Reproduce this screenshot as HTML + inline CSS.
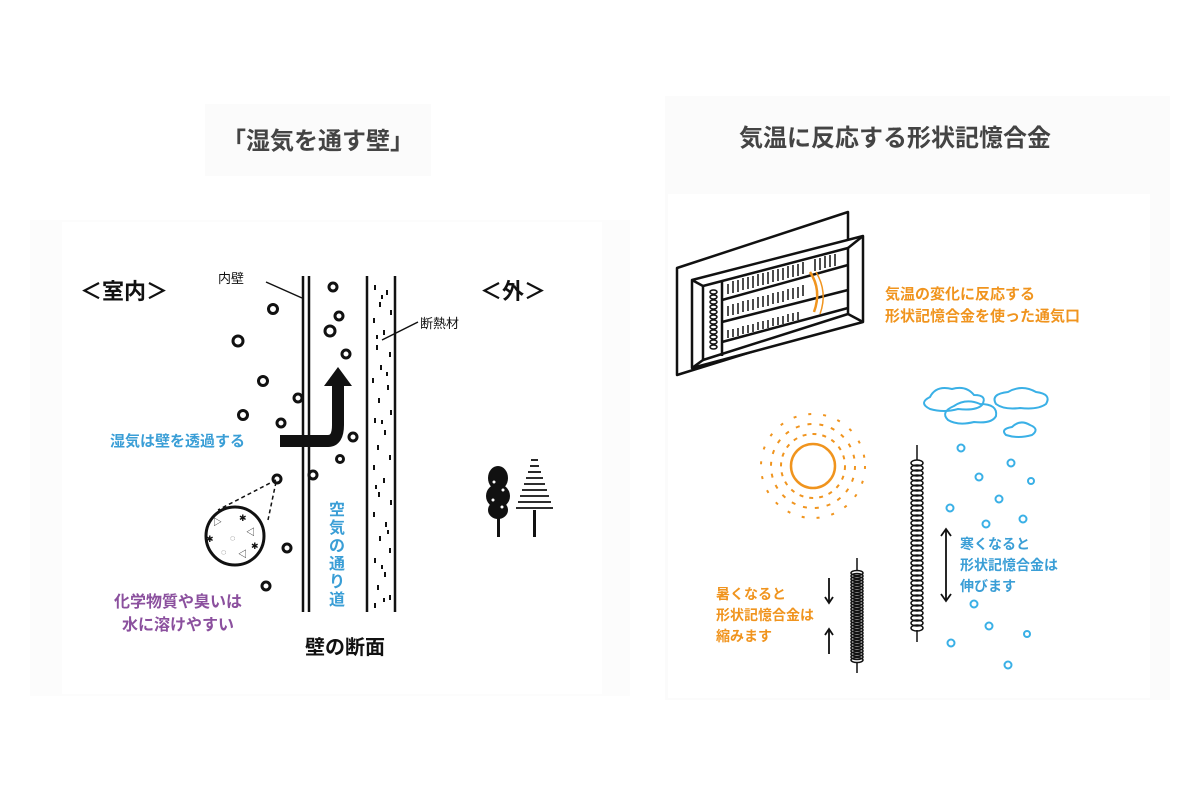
<!DOCTYPE html>
<html><head><meta charset="utf-8"><style>
body{margin:0;background:#fff;}
svg{display:block}
text{font-family:"Liberation Sans","Noto Sans CJK JP",sans-serif;}
</style></head><body>
<svg width="1200" height="800" viewBox="0 0 1200 800" xmlns="http://www.w3.org/2000/svg">
<rect width="1200" height="800" fill="#fff"/>
<rect x="205" y="104" width="226" height="72" fill="#fbfbfb"/>
<rect x="30" y="220" width="600" height="476" fill="#fcfcfc"/>
<rect x="62" y="222" width="540" height="472" fill="#fff"/>
<rect x="665" y="96" width="505" height="604" fill="#fbfbfb"/>
<rect x="668" y="194" width="482" height="504" fill="#fff"/>
<text x="318" y="149" font-size="24" font-weight="bold" fill="#444" text-anchor="middle">「湿気を通す壁」</text>
<text x="895" y="146" font-size="24" font-weight="bold" fill="#444" text-anchor="middle">気温に反応する形状記憶合金</text>

<!-- left diagram -->
<text x="80" y="299" font-size="22" font-weight="bold" fill="#111">＜室内＞</text>
<text x="480" y="299" font-size="22" font-weight="bold" fill="#111">＜外＞</text>
<text x="218" y="283" font-size="13" fill="#111">内壁</text>
<line x1="266" y1="282" x2="302" y2="298" stroke="#111" stroke-width="1.5"/>
<g stroke="#111" stroke-width="2.5">
<line x1="303" y1="276" x2="303" y2="612"/><line x1="309" y1="276" x2="309" y2="612"/>
<line x1="367" y1="276" x2="367" y2="612"/><line x1="395" y1="276" x2="395" y2="612"/>
</g>
<g fill="#111">
<rect x="374" y="285" width="2" height="5"/><rect x="386" y="290" width="2" height="5"/><rect x="379" y="302" width="2" height="5"/><rect x="390" y="310" width="2" height="5"/><rect x="373" y="318" width="2" height="5"/><rect x="383" y="330" width="2" height="5"/><rect x="376" y="345" width="2" height="5"/><rect x="389" y="352" width="2" height="5"/><rect x="380" y="365" width="2" height="5"/><rect x="372" y="378" width="2" height="5"/><rect x="387" y="385" width="2" height="5"/><rect x="378" y="398" width="2" height="5"/><rect x="390" y="410" width="2" height="5"/><rect x="374" y="418" width="2" height="5"/><rect x="384" y="430" width="2" height="5"/><rect x="377" y="445" width="2" height="5"/><rect x="389" y="455" width="2" height="5"/><rect x="373" y="465" width="2" height="5"/><rect x="383" y="478" width="2" height="5"/><rect x="378" y="492" width="2" height="5"/><rect x="390" y="500" width="2" height="5"/><rect x="373" y="512" width="2" height="5"/><rect x="385" y="522" width="2" height="5"/><rect x="379" y="536" width="2" height="5"/><rect x="389" y="548" width="2" height="5"/><rect x="374" y="558" width="2" height="5"/><rect x="384" y="572" width="2" height="5"/><rect x="377" y="585" width="2" height="5"/><rect x="389" y="595" width="2" height="5"/><rect x="374" y="603" width="2" height="5"/>
<rect x="381" y="295" width="2" height="4"/><rect x="376" y="335" width="2" height="4"/><rect x="386" y="372" width="2" height="4"/><rect x="381" y="420" width="2" height="4"/><rect x="375" y="485" width="2" height="4"/><rect x="387" y="530" width="2" height="4"/><rect x="381" y="565" width="2" height="4"/><rect x="383" y="598" width="2" height="4"/>
</g>
<text x="420" y="328" font-size="13" fill="#111">断熱材</text>
<line x1="418" y1="322" x2="382" y2="340" stroke="#111" stroke-width="1.5"/>
<g fill="none" stroke="#111" stroke-width="3">
<circle cx="273" cy="309" r="4.5"/><circle cx="238" cy="341" r="5"/><circle cx="263" cy="381" r="4.5"/><circle cx="243" cy="415" r="4.5"/><circle cx="281" cy="423" r="4"/><circle cx="298" cy="398" r="4"/><circle cx="277" cy="479" r="4"/><circle cx="287" cy="548" r="4"/><circle cx="266" cy="586" r="4"/>
<circle cx="333" cy="287" r="4"/><circle cx="339" cy="316" r="4"/><circle cx="330" cy="331" r="5"/><circle cx="346" cy="354" r="4"/><circle cx="353" cy="437" r="4"/><circle cx="340" cy="459" r="3.5"/><circle cx="313" cy="475" r="4"/>
</g>
<path d="M280 441 L328 441 Q338 441 338 425 L338 385" fill="none" stroke="#111" stroke-width="12"/>
<polygon points="338,367 324,386 352,386" fill="#111"/>
<text x="110" y="446" font-size="15" font-weight="bold" fill="#3a9ed6">湿気は壁を透過する</text>
<line x1="276" y1="480" x2="218" y2="510" stroke="#111" stroke-width="1.5" stroke-dasharray="4,3"/>
<line x1="276" y1="482" x2="268" y2="520" stroke="#111" stroke-width="1.5" stroke-dasharray="4,3"/>
<circle cx="235" cy="536" r="29" fill="#fff" stroke="#111" stroke-width="3"/>
<g font-size="9" fill="#111"><text x="213" y="525">▷</text><text x="239" y="521">✱</text><text x="246" y="535">◁</text><text x="206" y="542">✱</text><text x="251" y="549">✱</text><text x="230" y="541">◌</text><text x="221" y="555">◌</text><text x="238" y="557">◁</text></g>
<text x="178" y="607" font-size="16" font-weight="bold" fill="#8b509e" text-anchor="middle">化学物質や臭いは</text>
<text x="178" y="630" font-size="16" font-weight="bold" fill="#8b509e" text-anchor="middle">水に溶けやすい</text>
<g font-size="16" font-weight="bold" fill="#3a9ed6" text-anchor="middle"><text x="337" y="515">空</text><text x="337" y="533">気</text><text x="337" y="551">の</text><text x="337" y="569">通</text><text x="337" y="587">り</text><text x="337" y="605">道</text></g>
<text x="345" y="654" font-size="20" font-weight="bold" fill="#111" text-anchor="middle">壁の断面</text>
<!-- trees -->
<g fill="#111"><ellipse cx="498" cy="478" rx="10" ry="12"/><ellipse cx="498" cy="496" rx="12" ry="12"/><ellipse cx="498" cy="510" rx="10" ry="9"/><rect x="497" y="515" width="3" height="22"/><rect x="533" y="510" width="3" height="27"/></g>
<g fill="#fff"><circle cx="494" cy="482" r="1.5"/><circle cx="503" cy="490" r="1.5"/><circle cx="493" cy="500" r="1.5"/><circle cx="502" cy="507" r="1.5"/></g>
<g stroke="#111" stroke-width="1.8">
<line x1="531" y1="460" x2="538" y2="460"/><line x1="530" y1="466" x2="539" y2="466"/><line x1="528" y1="472" x2="541" y2="472"/><line x1="526" y1="478" x2="543" y2="478"/><line x1="524" y1="484" x2="545" y2="484"/><line x1="522" y1="490" x2="547" y2="490"/><line x1="520" y1="496" x2="549" y2="496"/><line x1="518" y1="502" x2="551" y2="502"/><line x1="516" y1="508" x2="553" y2="508"/>
</g>

<!-- vent -->
<g stroke="#111" stroke-width="2.5" fill="#fff" stroke-linejoin="round">
<polygon points="677,268 848,212 848,322 677,375"/>
<polygon points="692,280 863,236 863,322 692,368"/>
<polygon points="703,286 848,248 848,314 703,360" fill="#fff"/>
<line x1="692" y1="280" x2="703" y2="286"/><line x1="692" y1="368" x2="703" y2="360"/><line x1="863" y1="236" x2="848" y2="248"/><line x1="863" y1="322" x2="848" y2="314"/>
<line x1="722" y1="282" x2="722" y2="356"/>
<line x1="722" y1="300" x2="848" y2="265"/><line x1="722" y1="322" x2="848" y2="290"/><line x1="722" y1="342" x2="848" y2="308"/>
</g>
<g stroke="#111" stroke-width="1.5">
<path d="M728 294 v-10 M733 293 v-12 M738 292 v-12 M743 290 v-12 M748 289 v-12 M753 288 v-12 M758 286 v-12 M763 285 v-12 M768 284 v-12 M773 282 v-12 M778 281 v-12 M783 280 v-12 M788 278 v-12 M793 277 v-12 M798 276 v-12 M803 274 v-12 M815 271 v-12 M820 270 v-12 M825 268 v-12 M830 267 v-12 M835 266 v-12"/>
<path d="M728 316 v-10 M733 315 v-11 M738 314 v-11 M743 312 v-11 M748 311 v-11 M753 310 v-11 M758 308 v-11 M763 307 v-11 M768 306 v-11 M773 304 v-11 M778 303 v-11 M783 302 v-11 M788 300 v-11 M793 299 v-11 M798 298 v-11 M803 296 v-11"/>
<path d="M728 338 v-8 M733 337 v-8 M738 336 v-8 M743 334 v-8 M748 333 v-8 M753 332 v-8 M758 330 v-8 M763 329 v-8 M768 328 v-8 M773 326 v-8 M778 325 v-8 M783 324 v-8 M788 322 v-8 M793 321 v-8 M798 320 v-8"/>
<path d="M710 292 a3.5 2 0 1 1 7 0a3.5 2 0 1 1 -7 0m0 5a3.5 2 0 1 1 7 0a3.5 2 0 1 1 -7 0m0 5a3.5 2 0 1 1 7 0a3.5 2 0 1 1 -7 0m0 5a3.5 2 0 1 1 7 0a3.5 2 0 1 1 -7 0m0 5a3.5 2 0 1 1 7 0a3.5 2 0 1 1 -7 0m0 5a3.5 2 0 1 1 7 0a3.5 2 0 1 1 -7 0m0 5a3.5 2 0 1 1 7 0a3.5 2 0 1 1 -7 0m0 5a3.5 2 0 1 1 7 0a3.5 2 0 1 1 -7 0m0 5a3.5 2 0 1 1 7 0a3.5 2 0 1 1 -7 0m0 5a3.5 2 0 1 1 7 0a3.5 2 0 1 1 -7 0m0 5a3.5 2 0 1 1 7 0a3.5 2 0 1 1 -7 0m0 5a3.5 2 0 1 1 7 0a3.5 2 0 1 1 -7 0" fill="none"/>
</g>
<path d="M810 272 Q822 290 814 312" fill="none" stroke="#f0941e" stroke-width="2.5"/>
<path d="M816 272 Q828 292 820 314" fill="none" stroke="#f0941e" stroke-width="1.5"/>
<text x="885" y="299" font-size="15" font-weight="bold" fill="#f0941e">気温の変化に反応する</text>
<text x="885" y="321" font-size="15" font-weight="bold" fill="#f0941e">形状記憶合金を使った通気口</text>

<!-- sun -->
<circle cx="813" cy="466" r="22" fill="none" stroke="#f0941e" stroke-width="2.5"/>
<circle cx="813" cy="466" r="32" fill="none" stroke="#f0941e" stroke-width="2" stroke-dasharray="4,6"/>
<circle cx="813" cy="466" r="42" fill="none" stroke="#f0941e" stroke-width="2" stroke-dasharray="4,8"/>
<circle cx="813" cy="466" r="52" fill="none" stroke="#f0941e" stroke-width="2" stroke-dasharray="3,12"/>
<!-- clouds -->
<g fill="none" stroke="#3ab0e6" stroke-width="2">
<path d="M930 409 q-12 -6 0 -12 q6 -12 22 -8 q14 -4 22 6 q14 0 8 10 q-6 6 -24 4 q-14 4 -28 0z"/>
<path d="M948 420 q-8 -8 6 -14 q12 -8 26 -2 q18 0 16 12 q-4 8 -22 6 q-16 4 -26 -2z"/>
<path d="M996 404 q-6 -10 12 -12 q14 -8 28 0 q16 2 10 12 q-8 6 -26 4 q-16 2 -24 -4z"/>
<path d="M1006 435 q-6 -6 6 -8 q8 -8 18 -2 q10 4 2 10 q-14 4 -26 0z"/>
</g>
<!-- springs -->
<g stroke="#111" stroke-width="1.5" fill="none">
<path d="M917 445 v15 M917 630 v12 M857 558 v13 M857 663 v10"/>
<path d="M911 463 a6 3 0 1 1 12 0a6 3 0 1 1 -12 0m0 5a6 3 0 1 1 12 0a6 3 0 1 1 -12 0m0 5a6 3 0 1 1 12 0a6 3 0 1 1 -12 0m0 5a6 3 0 1 1 12 0a6 3 0 1 1 -12 0m0 5a6 3 0 1 1 12 0a6 3 0 1 1 -12 0m0 5a6 3 0 1 1 12 0a6 3 0 1 1 -12 0m0 5a6 3 0 1 1 12 0a6 3 0 1 1 -12 0m0 5a6 3 0 1 1 12 0a6 3 0 1 1 -12 0m0 5a6 3 0 1 1 12 0a6 3 0 1 1 -12 0m0 5a6 3 0 1 1 12 0a6 3 0 1 1 -12 0m0 5a6 3 0 1 1 12 0a6 3 0 1 1 -12 0m0 5a6 3 0 1 1 12 0a6 3 0 1 1 -12 0m0 5a6 3 0 1 1 12 0a6 3 0 1 1 -12 0m0 5a6 3 0 1 1 12 0a6 3 0 1 1 -12 0m0 5a6 3 0 1 1 12 0a6 3 0 1 1 -12 0m0 5a6 3 0 1 1 12 0a6 3 0 1 1 -12 0m0 5a6 3 0 1 1 12 0a6 3 0 1 1 -12 0m0 5a6 3 0 1 1 12 0a6 3 0 1 1 -12 0m0 5a6 3 0 1 1 12 0a6 3 0 1 1 -12 0m0 5a6 3 0 1 1 12 0a6 3 0 1 1 -12 0m0 5a6 3 0 1 1 12 0a6 3 0 1 1 -12 0m0 5a6 3 0 1 1 12 0a6 3 0 1 1 -12 0m0 5a6 3 0 1 1 12 0a6 3 0 1 1 -12 0m0 5a6 3 0 1 1 12 0a6 3 0 1 1 -12 0m0 5a6 3 0 1 1 12 0a6 3 0 1 1 -12 0m0 5a6 3 0 1 1 12 0a6 3 0 1 1 -12 0m0 5a6 3 0 1 1 12 0a6 3 0 1 1 -12 0m0 5a6 3 0 1 1 12 0a6 3 0 1 1 -12 0m0 5a6 3 0 1 1 12 0a6 3 0 1 1 -12 0m0 5a6 3 0 1 1 12 0a6 3 0 1 1 -12 0m0 5a6 3 0 1 1 12 0a6 3 0 1 1 -12 0m0 5a6 3 0 1 1 12 0a6 3 0 1 1 -12 0m0 5a6 3 0 1 1 12 0a6 3 0 1 1 -12 0m0 5a6 3 0 1 1 12 0a6 3 0 1 1 -12 0"/>
<path d="M851 573 a6 2.5 0 1 1 12 0a6 2.5 0 1 1 -12 0m0 3a6 2.5 0 1 1 12 0a6 2.5 0 1 1 -12 0m0 3a6 2.5 0 1 1 12 0a6 2.5 0 1 1 -12 0m0 3a6 2.5 0 1 1 12 0a6 2.5 0 1 1 -12 0m0 3a6 2.5 0 1 1 12 0a6 2.5 0 1 1 -12 0m0 3a6 2.5 0 1 1 12 0a6 2.5 0 1 1 -12 0m0 3a6 2.5 0 1 1 12 0a6 2.5 0 1 1 -12 0m0 3a6 2.5 0 1 1 12 0a6 2.5 0 1 1 -12 0m0 3a6 2.5 0 1 1 12 0a6 2.5 0 1 1 -12 0m0 3a6 2.5 0 1 1 12 0a6 2.5 0 1 1 -12 0m0 3a6 2.5 0 1 1 12 0a6 2.5 0 1 1 -12 0m0 3a6 2.5 0 1 1 12 0a6 2.5 0 1 1 -12 0m0 3a6 2.5 0 1 1 12 0a6 2.5 0 1 1 -12 0m0 3a6 2.5 0 1 1 12 0a6 2.5 0 1 1 -12 0m0 3a6 2.5 0 1 1 12 0a6 2.5 0 1 1 -12 0m0 3a6 2.5 0 1 1 12 0a6 2.5 0 1 1 -12 0m0 3a6 2.5 0 1 1 12 0a6 2.5 0 1 1 -12 0m0 3a6 2.5 0 1 1 12 0a6 2.5 0 1 1 -12 0m0 3a6 2.5 0 1 1 12 0a6 2.5 0 1 1 -12 0m0 3a6 2.5 0 1 1 12 0a6 2.5 0 1 1 -12 0m0 3a6 2.5 0 1 1 12 0a6 2.5 0 1 1 -12 0m0 3a6 2.5 0 1 1 12 0a6 2.5 0 1 1 -12 0m0 3a6 2.5 0 1 1 12 0a6 2.5 0 1 1 -12 0m0 3a6 2.5 0 1 1 12 0a6 2.5 0 1 1 -12 0m0 3a6 2.5 0 1 1 12 0a6 2.5 0 1 1 -12 0m0 3a6 2.5 0 1 1 12 0a6 2.5 0 1 1 -12 0m0 3a6 2.5 0 1 1 12 0a6 2.5 0 1 1 -12 0m0 3a6 2.5 0 1 1 12 0a6 2.5 0 1 1 -12 0m0 3a6 2.5 0 1 1 12 0a6 2.5 0 1 1 -12 0m0 3a6 2.5 0 1 1 12 0a6 2.5 0 1 1 -12 0"/>
</g>
<!-- arrows -->
<g stroke="#111" stroke-width="1.8" fill="none">
<line x1="946" y1="530" x2="946" y2="600"/><path d="M941 536 l5 -7 l5 7 M941 594 l5 7 l5 -7"/>
<line x1="829" y1="578" x2="829" y2="602"/><path d="M825 597 l4 6 l4 -6"/>
<line x1="829" y1="630" x2="829" y2="654"/><path d="M825 635 l4 -6 l4 6"/>
</g>
<g font-size="14" font-weight="bold" fill="#3a9ed6"><text x="960" y="549">寒くなると</text><text x="960" y="570">形状記憶合金は</text><text x="960" y="591">伸びます</text></g>
<g font-size="14" font-weight="bold" fill="#f0941e"><text x="716" y="599">暑くなると</text><text x="716" y="620">形状記憶合金は</text><text x="716" y="641">縮みます</text></g>
<g fill="none" stroke="#3ab0e6" stroke-width="2">
<circle cx="961" cy="448" r="3.5"/><circle cx="1011" cy="463" r="3.5"/><circle cx="979" cy="477" r="3.5"/><circle cx="1031" cy="481" r="3"/><circle cx="999" cy="499" r="3.5"/><circle cx="950" cy="508" r="3.5"/><circle cx="986" cy="524" r="3.5"/><circle cx="1023" cy="519" r="3.5"/><circle cx="974" cy="604" r="3.5"/><circle cx="989" cy="626" r="3.5"/><circle cx="1027" cy="634" r="3"/><circle cx="951" cy="643" r="3.5"/><circle cx="1008" cy="665" r="3.5"/>
</g>
</svg>
</body></html>
